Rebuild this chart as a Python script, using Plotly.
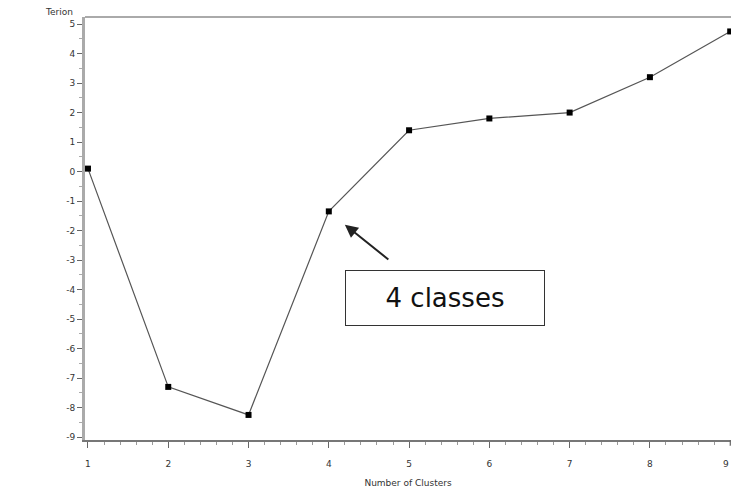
import plotly.graph_objects as go

# Cubic clustering criterion by number of clusters
clusters = [1, 2, 3, 4, 5, 6, 7, 8, 9]
criterion = [0.1, -7.3, -8.25, -1.35, 1.4, 1.8, 2.0, 3.2, 4.75]
y_ticks = [5, 4, 3, 2, 1, 0, -1, -2, -3, -4, -5, -6, -7, -8, -9]
y_labels = [str(v) for v in y_ticks]

fig = go.Figure()
fig.add_trace(go.Scatter(
    x=clusters, y=criterion, mode="lines+markers",
    line=dict(color="#555555", width=1.2),
    marker=dict(symbol="square", size=6, color="black"),
    cliponaxis=False, showlegend=False,
))

tick_font = dict(family="DejaVu Sans", size=9, color="#333333")

fig.update_xaxes(
    range=[0.963, 9.01], tickvals=clusters[:-1], ticks="outside", ticklen=6,
    tickcolor="#666666", tickfont=tick_font, ticklabelstandoff=8,
    showgrid=False, zeroline=False,
    showline=True, linecolor="#777777", linewidth=1.5,
    minor=dict(dtick=0.2, ticks="outside", ticklen=3, tickcolor="#999999"),
    title=dict(text="Number of Clusters", font=dict(family="DejaVu Sans", size=9, color="#333333"), standoff=12),
)
fig.update_yaxes(
    range=[-9.1, 5.24], tickvals=y_ticks, ticktext=y_labels, ticks="outside", ticklen=5,
    tickcolor="#666666", tickfont=tick_font, showgrid=False, zeroline=False,
    showline=True, linecolor="#aaaaaa", linewidth=3, mirror=False,
    minor=dict(dtick=0.5, ticks="outside", ticklen=3, tickcolor="#aaaaaa"),
)

# last x label sits at the page edge, so draw it as right-anchored text
fig.add_shape(type="line", xref="x", yref="paper", x0=clusters[-1], x1=clusters[-1],
              y0=0, y1=-0.014, line=dict(color="#666666", width=1))
fig.add_annotation(text=str(clusters[-1]), x=1.0, xref="paper", y=-0.04, yref="paper",
                   xanchor="right", yanchor="top", showarrow=False, font=tick_font)

# top border of the frame
fig.add_shape(type="line", xref="paper", yref="paper", x0=0, x1=1, y0=1, y1=1,
              line=dict(color="#aaaaaa", width=2))

# axis title placed above the y axis
fig.add_annotation(text="Terion", xref="paper", yref="paper", x=-0.015, y=0.995,
                   xanchor="right", yanchor="bottom", showarrow=False,
                   font=dict(family="DejaVu Sans", size=9, color="#333333"))

# callout for the chosen solution
fig.add_annotation(x=4.2, y=-1.8, ax=45, ay=36, xref="x", yref="y", text="",
                   showarrow=True, arrowhead=2, arrowsize=1.3, arrowwidth=2,
                   arrowcolor="#222222")
fig.add_annotation(x=5.45, y=-4.3, xref="x", yref="y", text="4 classes",
                   showarrow=False, font=dict(family="DejaVu Sans", size=26, color="#111111"),
                   bordercolor="#333333", borderwidth=1, borderpad=9, bgcolor="white",
                   width=180, height=36)

fig.update_layout(
    width=731, height=493, margin=dict(l=85, r=0, t=17, b=53),
    paper_bgcolor="white", plot_bgcolor="white",
)

fig.write_html("out.html")
